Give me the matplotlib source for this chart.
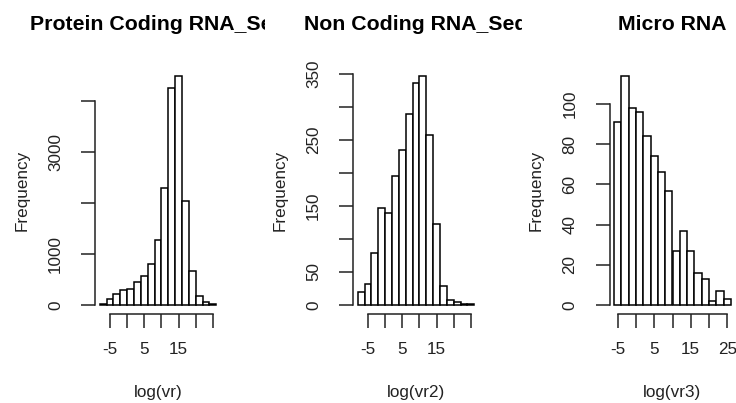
import numpy as np
import matplotlib
matplotlib.use("Agg")
import matplotlib.pyplot as plt
from matplotlib.transforms import Bbox, TransformedBbox

plt.rcParams['font.family'] = ['Liberation Sans', 'DejaVu Sans']

# bin breaks and counts
breaks1 = list(range(-8, 27, 2))
counts1 = [20, 118, 215, 294, 314, 444, 562, 804, 1275, 2307, 4255, 4497, 2033, 667, 183, 52, 20]

breaks2 = list(range(-8, 27, 2))
counts2 = [20, 32, 79, 147, 140, 196, 235, 289, 336, 347, 258, 122, 28, 7, 4, 2, 1]

breaks3 = list(range(-6, 27, 2))
counts3 = [91, 114, 98, 96, 84, 74, 66, 57, 27, 37, 27, 16, 13, 2, 7, 3]

titles = ["Protein Coding RNA_Seq", "Non Coding RNA_Seq", "Micro RNA"]
xlabels = ["log(vr)", "log(vr2)", "log(vr3)"]

xticks = [-5, 0, 5, 10, 15, 20, 25]
xticklabels = [["-5", "", "5", "", "15", "", ""],
               ["-5", "", "5", "", "15", "", ""],
               ["-5", "", "5", "", "15", "", "25"]]
yticks = [[0, 1000, 2000, 3000, 4000],
          [0, 50, 100, 150, 200, 250, 300, 350],
          [0, 20, 40, 60, 80, 100]]
yticklabels = [["0", "1000", "", "3000", ""],
               ["0", "50", "", "150", "", "250", "", "350"],
               ["0", "20", "40", "60", "80", "100"]]

W, H = 736, 403
fig = plt.figure(figsize=(W / 100, H / 100), dpi=100)

lefts = [95, 353, 609.5]
clip_right = [265, 522, 736]
top_px, bot_px = 67, 314

panels = [(breaks1, counts1), (breaks2, counts2), (breaks3, counts3)]
for i, (br, ct) in enumerate(panels):
    ax = fig.add_axes([lefts[i] / W, 1 - bot_px / H, 126 / W, (bot_px - top_px) / H])
    br = np.array(br)
    ax.bar(br[:-1], ct, width=np.diff(br), align='edge', facecolor='white',
           edgecolor='black', linewidth=1.1)
    lo, hi = br[0], br[-1]
    ax.set_xlim(lo - 0.04 * (hi - lo), hi + 0.04 * (hi - lo))
    m = max(ct)
    ax.set_ylim(-0.04 * m, 1.04 * m)

    for s in ['top', 'right']:
        ax.spines[s].set_visible(False)
    ax.spines['left'].set_bounds(yticks[i][0], yticks[i][-1])
    ax.spines['bottom'].set_bounds(xticks[0], xticks[-1])
    for s in ['left', 'bottom']:
        ax.spines[s].set_linewidth(1.1)
        ax.spines[s].set_color('#222222')

    ax.set_xticks(xticks)
    ax.set_xticklabels(xticklabels[i])
    ax.set_yticks(yticks[i])
    ax.set_yticklabels(yticklabels[i], rotation=90, va='center')
    ax.tick_params(axis='both', length=10, width=1.1, color='#222222',
                   labelsize=12.3, labelcolor='#222222')
    ax.tick_params(axis='x', pad=10)
    ax.tick_params(axis='y', pad=13)

    ax.set_xlabel(xlabels[i], fontsize=12.3, va='center', color='#222222')
    ax.xaxis.set_label_coords(0.5, -(392 - bot_px) / (bot_px - top_px))
    ax.set_ylabel("Frequency", fontsize=12.3, va='center', color='#222222')
    ax.yaxis.set_label_coords(-73 / 126, 0.5)

    t = fig.text((lefts[i] + 63) / W, 1 - 30 / H, titles[i], ha='center',
                 va='baseline', fontsize=15.3, fontweight='bold')
    t.set_clip_box(TransformedBbox(Bbox.from_extents((clip_right[i] - 270) / W, 0,
                                                     clip_right[i] / W, 1),
                                   fig.transFigure))
    t.set_clip_on(True)

fig.savefig("out.png", dpi=100)
